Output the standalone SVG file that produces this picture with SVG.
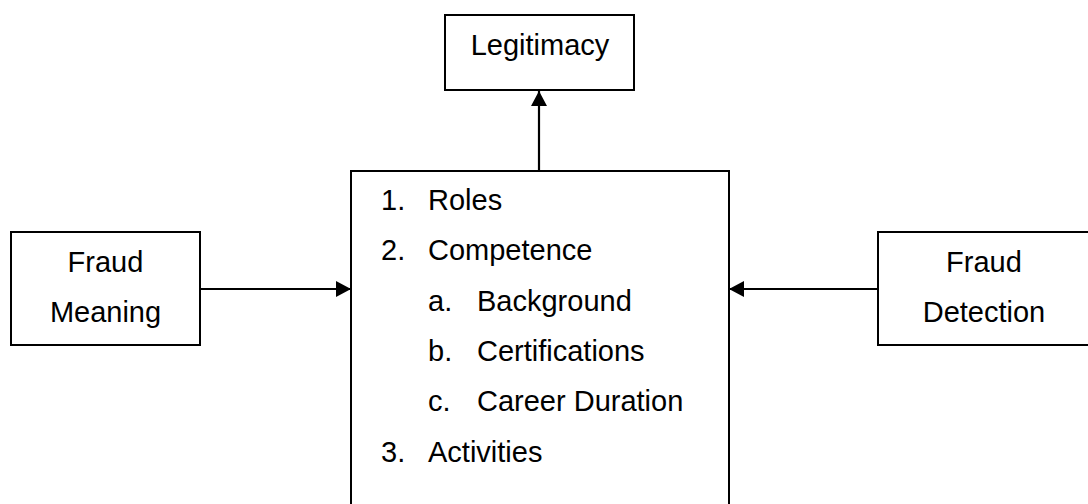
<svg xmlns="http://www.w3.org/2000/svg" width="1088" height="504" viewBox="0 0 1088 504">
<style>
.box{fill:#fff;stroke:#000;stroke-width:2}
.t{font-family:"Liberation Sans",Arial,sans-serif;font-size:29px;fill:#000}
.c{text-anchor:middle}
.ln{stroke:#000;stroke-width:2.2;fill:none}
</style>
<defs>
<marker id="ah" markerUnits="userSpaceOnUse" markerWidth="16" markerHeight="17" viewBox="0 0 16 17" refX="15" refY="8.5" orient="auto">
<path d="M0,0.5 L15,8.5 L0,16.5 Z" fill="#000"/>
</marker>
<clipPath id="clipM"><rect x="0" y="0" width="1088" height="333"/></clipPath>
</defs>
<g id="connectors">
<line class="ln" x1="539" y1="171" x2="539" y2="91" marker-end="url(#ah)"/>
<line class="ln" x1="200" y1="289" x2="351" y2="289" marker-end="url(#ah)"/>
<line class="ln" x1="878" y1="289" x2="729" y2="289" marker-end="url(#ah)"/>
</g>
<g id="legitimacy">
<rect class="box" x="445" y="15" width="189" height="75"/>
<text class="t c" x="540" y="55">Legitimacy</text>
</g>
<g id="fraud-meaning">
<rect class="box" x="11" y="232" width="189" height="113"/>
<text class="t c" x="105.5" y="272">Fraud</text>
<text class="t c" x="105.5" y="322" clip-path="url(#clipM)">Meaning</text>
</g>
<g id="fraud-detection">
<rect class="box" x="878" y="232" width="214" height="113"/>
<text class="t c" x="984" y="272">Fraud</text>
<text class="t c" x="984" y="322">Detection</text>
</g>
<g id="center">
<rect class="box" x="351" y="171" width="378" height="345"/>
<text class="t" x="381" y="210">1.</text><text class="t" x="428" y="210">Roles</text>
<text class="t" x="381" y="260">2.</text><text class="t" x="428" y="260">Competence</text>
<text class="t" x="428" y="311">a.</text><text class="t" x="477" y="311">Background</text>
<text class="t" x="428" y="361">b.</text><text class="t" x="477" y="361">Certifications</text>
<text class="t" x="428" y="411">c.</text><text class="t" x="477" y="411">Career Duration</text>
<text class="t" x="381" y="462">3.</text><text class="t" x="428" y="462">Activities</text>
</g>
</svg>
